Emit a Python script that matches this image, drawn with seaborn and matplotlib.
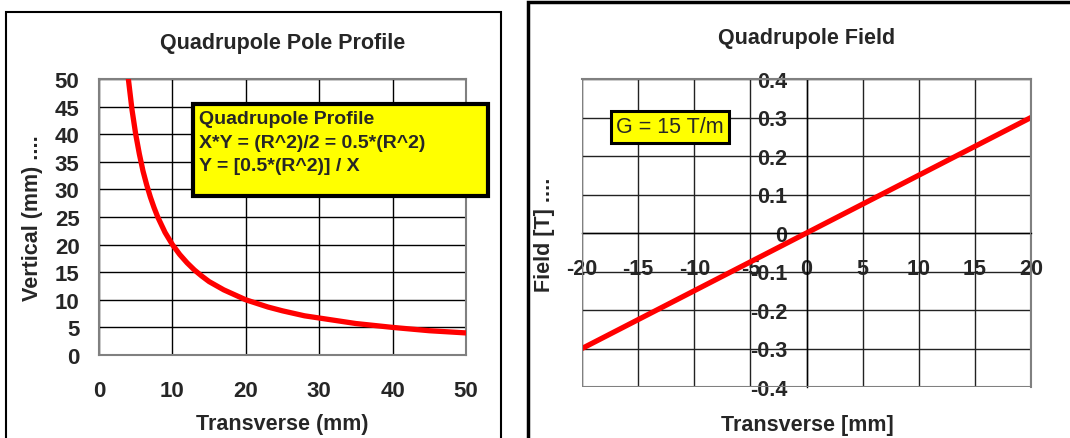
import matplotlib
matplotlib.use("Agg")
import matplotlib.pyplot as plt
from matplotlib.patches import Rectangle
import seaborn as sns
import pandas as pd

# pole profile (Y = 0.5*R^2 / X)
prof_x = [4, 4.5, 5, 5.5, 6, 6.5, 7, 7.5, 8, 9, 10, 11, 12, 13, 14, 15, 17, 20,
          23, 25, 28, 30, 35, 40, 45, 50]
prof_y = [50, 44.4, 40, 36.4, 33.3, 30.8, 28.6, 26.7, 25, 22.2, 20, 18.2, 16.7,
          15.4, 14.3, 13.3, 11.8, 10, 8.7, 8, 7.1, 6.7, 5.7, 5, 4.4, 4]

# field vs transverse position
field_x = [-20, -15, -10, -5, 0, 5, 10, 15, 20]
field_y = [-0.3, -0.225, -0.15, -0.075, 0, 0.075, 0.15, 0.225, 0.3]

prof_xticks = [0, 10, 20, 30, 40, 50]
prof_yticks = [0, 5, 10, 15, 20, 25, 30, 35, 40, 45, 50]
field_xticks = [-20, -15, -10, -5, 0, 5, 10, 15, 20]
field_yticks = [-0.4, -0.3, -0.2, -0.1, 0, 0.1, 0.2, 0.3, 0.4]
field_ylabels = ["-0.4", "-0.3", "-0.2", "-0.1", "0", "0.1", "0.2", "0.3", "0.4"]

sns.set_style("white")
plt.rcParams['font.family'] = ['Liberation Sans', 'DejaVu Sans']
plt.rcParams['axes.unicode_minus'] = False

W, H = 1070, 439
fig = plt.figure(figsize=(W / 100, H / 100), dpi=100)


def box(x0, y0, x1, y1):
    # pixel coords (top-left origin) -> figure fraction
    return [x0 / W, 1 - y1 / H, (x1 - x0) / W, (y1 - y0) / H]


# outer chart frames
fig.patches.append(Rectangle((6 / W, -0.05), (501 - 6) / W, 1.05 - 13 / H,
                             transform=fig.transFigure, fill=False,
                             edgecolor='black', lw=1.5))
fig.patches.append(Rectangle((528 / W, -0.05), 0.6, 1.05 - 3 / H,
                             transform=fig.transFigure, fill=False,
                             edgecolor='black', lw=2.5))

TICK = 16
LAB = 15.5

# ---------- left: pole profile ----------
ax1 = fig.add_axes(box(99, 80, 466, 356))
df1 = pd.DataFrame({'x': prof_x, 'y': prof_y})
sns.lineplot(data=df1, x='x', y='y', ax=ax1, color='red', lw=3.8, zorder=3)
ax1.set_xlim(0, 50)
ax1.set_ylim(0, 50)
ax1.set_xticks(prof_xticks)
ax1.set_yticks(prof_yticks)
ax1.grid(True, color='black', lw=1)
for s in ax1.spines.values():
    s.set_color('#808080')
    s.set_linewidth(1.5)
ax1.tick_params(axis='y', direction='out', length=8, width=1, color='black',
                pad=6, labelsize=TICK)
ax1.tick_params(axis='x', direction='out', length=5, width=1, color='black',
                pad=13, labelsize=TICK)
for lab in ax1.get_xticklabels() + ax1.get_yticklabels():
    lab.set_fontweight('bold')
ax1.set_xlabel('Transverse (mm)', fontsize=LAB, fontweight='bold')
ax1.set_ylabel('Vertical (mm) ....', fontsize=LAB, fontweight='bold')
ax1.xaxis.set_label_coords(0.5, -(414 - 356) / 276)
ax1.yaxis.set_label_coords(-(99 - 43) / 367, 0.5)
ax1.set_title('Quadrupole Pole Profile', fontsize=LAB, fontweight='bold', pad=22)

fig.patches.append(Rectangle((193 / W, 1 - 197 / H), (488 - 193) / W, (197 - 105) / H,
                             transform=fig.transFigure, facecolor='#ffff00',
                             edgecolor='black', lw=3, zorder=5))
for i, line in enumerate(['Quadrupole Profile', 'X*Y = (R^2)/2 = 0.5*(R^2)',
                          'Y = [0.5*(R^2)] / X']):
    fig.text(199 / W, 1 - (119 + 24 * i) / H, line, fontsize=14, fontweight='bold',
             va='center', ha='left', zorder=6)

# ---------- right: field ----------
ax2 = fig.add_axes(box(582, 80, 1031, 388))
df2 = pd.DataFrame({'x': field_x, 'y': field_y})
sns.lineplot(data=df2, x='x', y='y', ax=ax2, color='red', lw=3.8, zorder=3)
ax2.set_xlim(-20, 20)
ax2.set_ylim(-0.4, 0.4)
ax2.set_xticks(field_xticks)
ax2.set_yticks(field_yticks)
ax2.set_yticklabels(field_ylabels)
ax2.grid(True, color='#222222', lw=1)
ax2.spines['left'].set_position(('data', 0))
ax2.spines['bottom'].set_position(('data', 0))
for s in ['left', 'bottom']:
    ax2.spines[s].set_color('black')
    ax2.spines[s].set_linewidth(1)
for s in ['top', 'right']:
    ax2.spines[s].set_color('#808080')
    ax2.spines[s].set_linewidth(1.5)
ax2.add_patch(Rectangle((0, 0), 1, 1, transform=ax2.transAxes, fill=False,
                        edgecolor='#808080', lw=1.5, zorder=4))
ax2.tick_params(axis='y', direction='out', length=8, width=1, color='black',
                pad=6, labelsize=15.5)
ax2.tick_params(axis='x', direction='out', length=0, pad=18, labelsize=15.5)
for lab in ax2.get_xticklabels() + ax2.get_yticklabels():
    lab.set_fontweight('bold')
ax2.set_xlabel('Transverse [mm]', fontsize=LAB, fontweight='bold')
ax2.set_ylabel('Field [T] ....', fontsize=LAB, fontweight='bold')
ax2.xaxis.set_label_coords((807 - 582) / 449, -(415 - 388) / 308)
ax2.yaxis.set_label_coords(-(582 - 555) / 449, (388 - 235) / 308)
ax2.set_title('Quadrupole Field', fontsize=LAB, fontweight='bold', pad=26)

fig.text(670 / W, 1 - 128 / H, 'G = 15 T/m', fontsize=15.5, ha='center', va='center',
         bbox=dict(boxstyle='square,pad=0.25', facecolor='#ffff00',
                   edgecolor='black', lw=2.2), zorder=6)

fig.savefig('out.png', dpi=100)
